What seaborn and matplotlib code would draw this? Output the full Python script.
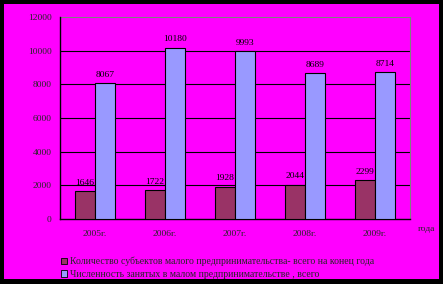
import matplotlib
matplotlib.use("Agg")
import matplotlib.pyplot as plt
import matplotlib.patches as mpatches
import seaborn as sns
import pandas as pd

years = ["2005г.", "2006г.", "2007г.", "2008г.", "2009г."]
subjects = [1646, 1722, 1928, 2044, 2299]
employed = [8067, 10180, 9993, 8689, 8714]
series_names = [
    "Количество субъектов малого предпринимательства- всего на конец года",
    "Численность занятых в малом предпринимательстве , всего",
]
yticks = [0, 2000, 4000, 6000, 8000, 10000, 12000]

df = pd.DataFrame({
    "year": years * 2,
    "value": subjects + employed,
    "series": [series_names[0]] * 5 + [series_names[1]] * 5,
})

sns.set_theme(style="white")
plt.rcParams["font.family"] = ["Liberation Serif", "DejaVu Serif"]

W, H = 443, 284
fig = plt.figure(figsize=(W / 100, H / 100), dpi=100)
fig.patch.set_facecolor("black")
fig.add_artist(mpatches.Rectangle((4 / W, 5 / H), (W - 8) / W, (H - 9) / H,
                                  transform=fig.transFigure, facecolor="#FF00FF",
                                  edgecolor="none", zorder=0))

ax = fig.add_axes([60 / W, (H - 219) / H, 350 / W, 202 / H])
ax.set_facecolor("#FF00FF")
ax.patch.set_alpha(0)

palette = {series_names[0]: "#993366", series_names[1]: "#9999FF"}
sns.barplot(data=df, x="year", y="value", hue="series", palette=palette,
            width=0.572, gap=0, edgecolor="black", linewidth=0.8,
            saturation=1, ax=ax, zorder=3, legend=False)

for c in ax.containers:
    ax.bar_label(c, fmt="%d", padding=3, fontsize=6.8, color="black")

ax.set_ylim(0, 12000)
ax.set_xlim(-0.5, 4.5)
ax.set_yticks(yticks)
ax.set_yticklabels([str(v) for v in yticks], fontsize=6.8)
for v in yticks[1:-1]:
    ax.axhline(v, color="black", linewidth=0.8, zorder=1)
ax.axhline(12000, color="#808080", linewidth=0.8, zorder=1)

ax.set_xticks(range(5))
ax.set_xticklabels(years, fontsize=6.8)
ax.set_xticks([i - 0.5 for i in range(6)], minor=True)
ax.tick_params(axis="x", which="major", length=0, pad=8)
ax.tick_params(axis="x", which="minor", length=4, width=0.8, color="black", direction="out")
ax.tick_params(axis="y", length=3, width=0.8, color="black", direction="out", pad=3)
ax.set_xlabel("")
ax.set_ylabel("")

for s in ["left", "bottom"]:
    ax.spines[s].set_color("black")
    ax.spines[s].set_linewidth(1)
ax.spines["top"].set_visible(False)
ax.spines["right"].set_color("#808080")
ax.spines["right"].set_linewidth(0.8)

fig.text(418 / W, 1 - 229 / H, "года", fontsize=6.8, va="center", ha="left")

handles = [mpatches.Patch(facecolor=palette[n], edgecolor="black", linewidth=0.6, label=n)
           for n in series_names]
fig.legend(handles=handles, loc="upper left", bbox_to_anchor=(61 / W, 1 - 257 / H),
           frameon=False, fontsize=7.0, handlelength=0.6, handleheight=0.6,
           handletextpad=0.3, labelspacing=0.35, borderpad=0, borderaxespad=0)

fig.savefig("out.png", dpi=100, facecolor=fig.get_facecolor())
